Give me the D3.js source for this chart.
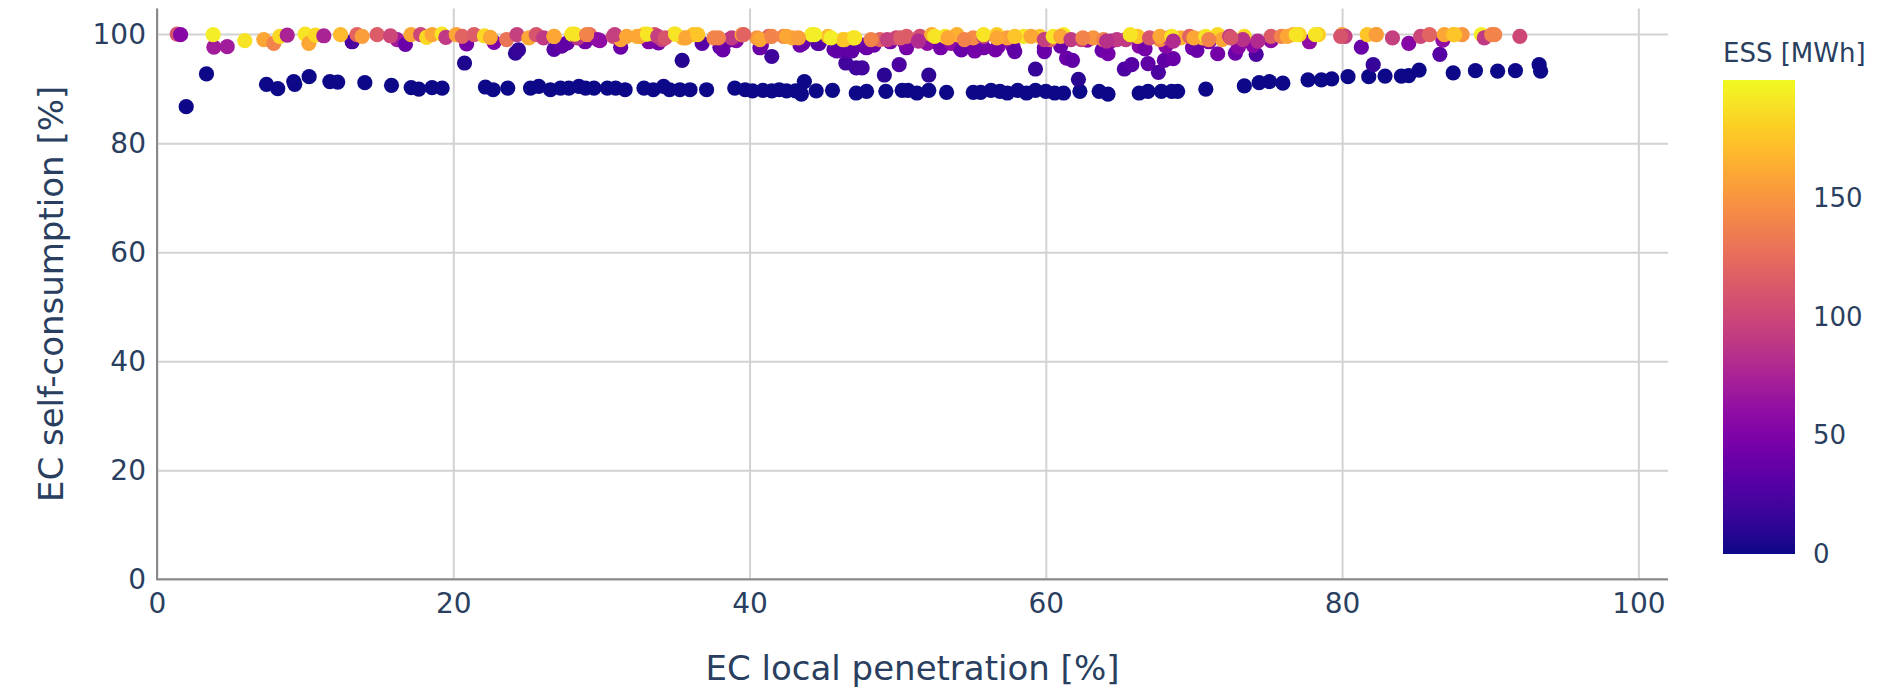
<!DOCTYPE html>
<html>
<head>
<meta charset="utf-8">
<script src="https://cdn.jsdelivr.net/npm/d3@7"></script>
<style>
  body { margin: 0; background: #fff; }
  text { font-family: "DejaVu Sans", sans-serif; fill: #2a3f5f; }
</style>
</head>
<body>
<div id="caja"></div>
<script>
// datos: [penetracion local %, autoconsumo %, ESS MWh]
var lowBand = [
  [1.97,86.7,0],[3.34,92.7,0],[7.39,90.8,0],[8.15,90.0,0],[9.23,91.3,0],[9.3,90.8,0],[10.27,92.2,0],[11.67,91.3,0],[12.2,91.2,0],
  [14.03,91.1,0],[15.83,90.6,0],[17.16,90.2,0],[17.67,89.9,0],[18.57,90.2,0],[19.25,90.1,0],[20.76,94.7,6],[22.17,90.3,0],[22.69,89.8,0],
  [23.68,90.1,0],[25.21,90.1,0],[25.77,90.4,0],[26.56,89.8,0],[27.24,90.1,0],[27.8,90.1,0],[28.48,90.4,0],[28.93,90.1,0],[29.5,90.1,0],
  [30.4,90.1,0],[30.96,90.1,0],[31.6,89.8,0],[32.87,90.1,0],[33.5,89.8,0],[34.2,90.4,0],[34.6,89.8,0],[35.3,89.8,0],[35.98,89.8,0],
  [37.1,89.8,0],[39.0,90.1,0],[39.7,89.8,0],[40.2,89.6,0],[40.9,89.7,0],[41.5,89.6,0],[42.0,89.8,0],[42.5,89.6,0],[43.1,89.6,0],
  [43.7,91.3,0],[43.5,89.0,0],[44.5,89.6,0],[45.6,89.7,0],[47.2,89.2,0],
  [47.9,89.5,0],[49.2,89.5,0],[50.3,89.7,0],[50.7,89.7,0],[51.3,89.2,0],[52.1,89.7,0],[53.3,89.3,0],[55.1,89.3,0],[55.6,89.3,0],
  [56.3,89.7,0],[56.9,89.5,0],[57.4,89.2,0],[58.1,89.7,0],[58.7,89.2,0],[59.3,89.7,0],[60.0,89.5,0],[60.6,89.2,0],[61.2,89.2,0],
  [62.3,89.5,0],[63.6,89.5,0],[64.2,89.0,0],[66.3,89.2,0],[66.9,89.5,0],[67.8,89.5,0],[68.5,89.5,0],[68.9,89.5,0],[70.8,89.9,0],
  [73.4,90.5,0],[74.4,91.1,0],[75.1,91.3,0],[76.0,91.0,0],[77.7,91.6,0],[78.6,91.6,0],[79.3,91.8,0],[80.4,92.2,0],[81.8,92.2,0],
  [82.9,92.3,0],[84.0,92.3,0],[84.5,92.4,0],[85.2,93.4,0],[87.5,92.9,0],[89.0,93.3,0],[90.5,93.2,0],[91.7,93.3,0],[93.3,94.4,0],[93.4,93.2,0]
];
var midBand = [
  [24.2,96.5,12],[24.4,97.1,15],[35.45,95.2,8],[41.5,95.9,18],[46.5,94.7,20],[47.2,93.8,20],[47.6,93.8,20],[49.1,92.5,10],
  [50.1,94.4,25],[52.1,92.5,12],[59.3,93.6,15],[62.2,91.7,10],[61.4,95.6,40],[61.8,95.2,35],[65.3,93.6,25],[65.8,94.4,30],
  [66.9,94.6,35],[67.6,93.0,25],[68.0,95.2,35],[68.6,95.5,40],[72.8,96.5,40],[74.2,96.3,25],[81.3,97.6,40],[82.1,94.4,15],[86.6,96.3,30]
];
var purpleBand = [
  [3.84,97.6,70],[4.74,97.7,70],[13.17,98.6,25],[16.21,99.0,70],[16.77,98.1,40],[20.9,98.2,45],[22.75,98.5,50],
  [26.8,97.2,30],[27.3,97.8,35],[27.7,98.4,40],[28.9,98.6,45],[31.3,97.6,40],[33.3,98.8,40],[33.85,98.4,45],[36.8,98.3,30],
  [38.0,97.6,35],[38.6,98.9,40],[40.8,98.0,45],[43.4,98.0,40],[44.6,98.3,30],[45.7,97.2,35],[46.6,96.9,30],
  [47.6,98.0,40],[48.4,98.0,40],[49.5,98.6,50],[50.6,97.5,45],[52.6,98.6,55],[53.5,98.8,60],[54.2,97.5,45],[54.9,97.8,40],
  [55.8,97.5,45],[56.8,97.8,50],[57.8,97.6,45],[59.9,97.5,45],[61.0,97.8,40],[62.8,98.9,60],[63.9,97.3,50],[64.4,98.7,65],
  [66.3,97.8,55],[68.1,97.8,55],[69.9,97.5,45],[71.0,98.6,50],
  [74.0,97.9,55],[75.2,98.8,60],[77.8,98.6,60],[84.5,98.3,55],[86.8,98.9,60],
  [27.4,98.0,35],[29.9,98.8,60],[33.2,98.6,50],[38.2,97.1,40],[39.1,98.8,55],[40.7,97.5,40],[43.6,98.3,40],[44.7,98.3,30],
  [45.9,96.9,35],[46.9,96.9,35],[47.9,97.5,40],[50.5,98.3,50],[52.0,98.3,60],[52.9,97.5,45],[53.6,98.3,60],[54.3,97.1,40],
  [55.2,96.9,45],[56.6,97.1,45],[57.9,96.8,35],[59.9,96.8,40],[63.8,97.0,40],[64.2,96.4,45],[66.7,97.3,45],[70.2,97.0,40],
  [71.6,96.4,45],[73.0,97.6,55]
];
var topBand = [
  [1.36,100,110],[1.59,99.9,55],
  [3.79,99.9,195],[5.93,98.8,190],[7.21,99.0,160],[7.88,98.3,140],[8.29,99.6,185],[8.79,99.8,75],[10.0,100,190],[10.25,98.3,160],
  [10.7,99.8,185],[11.26,99.7,75],[12.39,99.9,170],[13.5,99.9,120],[13.85,99.6,155],[14.86,99.9,115],[15.76,99.7,100],[17.15,99.9,160],
  [17.8,99.9,100],[18.2,99.4,185],[18.57,99.9,160],[19.24,100,190],[19.5,99.4,90],[20.2,99.9,160],[20.6,99.6,120],[21.4,99.9,115],
  [22.1,99.7,185],[22.5,99.4,160],
  [23.6,99.0,130],[24.3,99.9,95],[25.1,99.3,160],[25.6,99.9,110],[26.1,99.3,90],[26.8,99.6,175],[28.0,100,190],[28.4,99.3,85],
  [29.2,99.9,125],[29.75,99.0,60],[30.8,99.6,100],[31.3,99.0,160],[32.4,99.6,165],[32.9,100,190],[33.6,99.9,110],[34.1,99.0,95],
  [34.9,100,190],[35.5,99.3,165],[36.2,99.9,175],[37.6,99.3,140],[38.8,99.3,90],[39.5,99.9,160],[40.5,99.3,150],[41.3,99.6,120],
  [42.3,99.6,140],[42.9,99.3,160],[44.2,99.9,195],[45.3,99.6,170],[46.3,99.0,185],[47.0,99.3,190],
  [48.8,99.0,120],[49.9,99.3,100],[50.6,99.6,115],[51.5,99.6,105],[52.3,99.9,165],[53.2,99.6,190],[54.0,99.9,165],[55.1,99.3,145],
  [55.8,99.6,95],[56.7,99.9,180],[57.4,99.3,155],[58.5,99.6,190],[59.6,99.6,175],[60.3,99.0,125],[61.2,99.9,195],[62.4,99.0,100],
  [63.2,99.3,150],[63.9,99.0,140],[64.8,99.0,90],[66.2,99.6,175],[67.7,99.0,145],[68.3,99.3,95],[69.1,99.3,165],[69.7,99.6,120],
  [70.6,99.3,165],[71.6,99.9,185],[71.9,99.0,160],
  [72.4,99.6,95],[73.4,99.6,185],[73.3,99.0,85],[75.2,99.6,115],[75.9,99.6,140],[76.7,99.9,160],[77.1,99.9,180],[78.4,99.9,180],
  [80.0,99.9,155],[80.2,99.6,95],[81.7,99.9,175],[82.3,99.9,160],[83.4,99.3,95],[85.3,99.6,100],[85.9,99.9,120],[86.9,99.9,160],
  [87.5,99.9,170],[88.1,99.9,150],[89.4,99.9,195],[89.6,99.3,90],[90.1,99.9,140],[92.0,99.6,100],
  [26.8,99.6,160],[28.2,100,190],[29.0,99.9,140],[30.9,99.9,95],[31.7,99.6,160],[32.6,99.6,160],[33.1,100,190],[33.8,99.6,95],
  [34.3,99.3,110],[35.0,100,190],[35.7,99.3,160],[36.5,99.9,175],[37.9,99.3,140],[39.6,99.9,120],[40.7,99.0,160],[41.5,99.6,140],
  [42.5,99.6,160],[43.3,99.3,155],[44.4,99.9,195],[45.5,99.3,195],[46.4,99.0,175],[47.1,99.3,190],[48.2,99.0,140],[49.3,99.0,95],
  [50.2,99.3,115],[51.4,98.7,80],[52.5,99.6,190],[53.4,99.3,160],[54.5,99.0,140],[55.8,99.9,190],[56.7,99.3,160],[57.9,99.6,175],
  [59.0,99.6,160],[59.9,99.0,95],
  [60.5,99.6,190],[61.0,99.6,160],[61.7,99.0,90],[62.5,99.3,140],[64.1,98.7,85],[65.4,99.0,90],[65.7,99.9,190],[67.0,99.3,110],
  [67.7,99.6,160],[68.5,99.6,190],[68.6,98.7,80],[70.0,99.3,160],[70.8,99.6,190],[71.0,99.0,140],[72.5,99.3,110],[74.3,98.7,80],
  [76.3,99.6,160],[76.9,99.9,190],[78.2,99.9,190],[79.9,99.6,110],[82.3,99.9,155],[87.6,99.9,175],[90.3,99.9,140]
];

var xTicks = [0, 20, 40, 60, 80, 100];
var yTicks = [0, 20, 40, 60, 80, 100];
var essTicks = [0, 50, 100, 150];
var xTitulo = "EC local penetration [%]";
var yTitulo = "EC self-consumption [%]";
var cTitulo = "ESS [MWh]";

var puntos = lowBand.concat(midBand, purpleBand, topBand);

//area de dibujo
var w = 1899, h = 689;

var chart = d3.select('#caja')
  .append('svg')
  .attr('width', w)
  .attr('height', h)
  .style("background", "#fff");

var x = d3.scaleLinear().domain([0, 102]).range([157, 1668]);
var y = d3.scaleLinear().domain([0, 104.7]).range([579.3, 8.5]);
var color = d3.scaleSequential(d3.interpolatePlasma).domain([0, 200]);
var cbar = d3.scaleLinear().domain([0, 200]).range([554, 80]);

var x0 = x.range()[0], x1 = x.range()[1];
var yBot = y.range()[0], yTop = y.range()[1];

// rejilla
chart.append("g")
  .attr("transform", "translate(0," + yBot + ")")
  .call(d3.axisBottom(x).tickValues(xTicks).tickSize(-(yBot - yTop)).tickFormat(""))
  .call(g => g.select(".domain").remove())
  .selectAll("line").attr("stroke", "#d2d2d2").attr("stroke-width", 2);

chart.append("g")
  .attr("transform", "translate(" + x0 + ",0)")
  .call(d3.axisLeft(y).tickValues(yTicks).tickSize(-(x1 - x0)).tickFormat(""))
  .call(g => g.select(".domain").remove())
  .selectAll("line").attr("stroke", "#d2d2d2").attr("stroke-width", 2);

// puntos
chart.append("g")
  .selectAll("circle")
  .data(puntos)
  .enter()
  .append("circle")
  .attr("cx", d => x(d[0]))
  .attr("cy", d => y(d[1]))
  .attr("r", 7.6)
  .style("fill", d => color(d[2]));

// lineas de ejes
chart.append("line")
  .attr("x1", x0).attr("x2", x1).attr("y1", yBot).attr("y2", yBot)
  .attr("stroke", "#8a8a8a").attr("stroke-width", 2);
chart.append("line")
  .attr("x1", x0).attr("x2", x0).attr("y1", yTop).attr("y2", yBot + 1)
  .attr("stroke", "#8a8a8a").attr("stroke-width", 2);

// etiquetas
var ax = chart.append("g")
  .attr("transform", "translate(0," + yBot + ")")
  .call(d3.axisBottom(x).tickValues(xTicks).tickSize(0).tickPadding(14));
ax.select(".domain").remove();
ax.selectAll("text").style("font-size", "28px").style("font-family", "DejaVu Sans").attr("fill", "#2a3f5f");

var ay = chart.append("g")
  .attr("transform", "translate(" + x0 + ",0)")
  .call(d3.axisLeft(y).tickValues(yTicks).tickSize(0).tickPadding(11));
ay.select(".domain").remove();
ay.selectAll("text").style("font-size", "28px").style("font-family", "DejaVu Sans").attr("fill", "#2a3f5f");

// titulos
chart.append("text")
  .attr("x", (x0 + x1) / 2)
  .attr("y", 680)
  .attr("text-anchor", "middle")
  .style("font-size", "34px")
  .text(xTitulo);

chart.append("text")
  .attr("transform", "translate(63," + (yTop + yBot) / 2 + ") rotate(-90)")
  .attr("text-anchor", "middle")
  .style("font-size", "34px")
  .text(yTitulo);

// barra de color
var grad = chart.append("defs").append("linearGradient")
  .attr("id", "plasma")
  .attr("x1", 0).attr("y1", 1).attr("x2", 0).attr("y2", 0);
grad.selectAll("stop")
  .data(d3.range(0, 1.0001, 0.05))
  .enter()
  .append("stop")
  .attr("offset", d => d)
  .attr("stop-color", d => color(d * 200));

chart.append("rect")
  .attr("x", 1723)
  .attr("y", cbar.range()[1])
  .attr("width", 72)
  .attr("height", cbar.range()[0] - cbar.range()[1])
  .style("fill", "url(#plasma)");

var ac = chart.append("g")
  .attr("transform", "translate(1795,0)")
  .call(d3.axisRight(cbar).tickValues(essTicks).tickSize(0).tickPadding(18));
ac.select(".domain").remove();
ac.selectAll("text").style("font-size", "26px").style("font-family", "DejaVu Sans").attr("fill", "#2a3f5f");

chart.append("text")
  .attr("x", 1723)
  .attr("y", 62)
  .style("font-size", "26px")
  .text(cTitulo);
</script>
</body>
</html>
